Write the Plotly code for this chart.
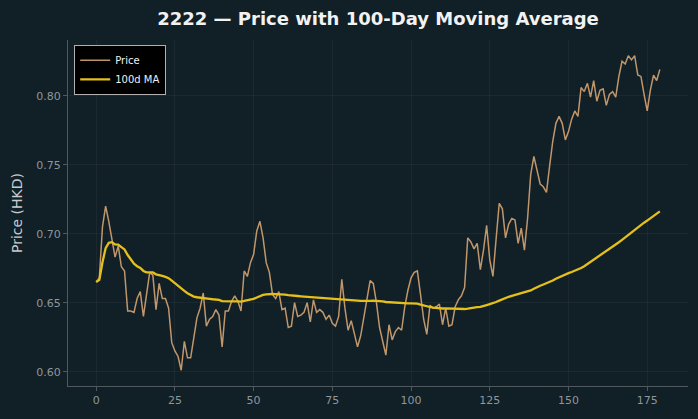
import numpy as np
import pandas as pd
import plotly.graph_objects as go

title_text = "2222 — Price with 100-Day Moving Average"
y_label = "Price (HKD)"
series_names = ["Price", "100d MA"]
ma_window = 100

price = [
    0.665, 0.668, 0.705, 0.720, 0.709, 0.696, 0.683, 0.691, 0.676, 0.673,
    0.644, 0.644, 0.643, 0.653, 0.658, 0.640, 0.656, 0.672, 0.670, 0.645,
    0.664, 0.653, 0.653, 0.646, 0.621, 0.615, 0.611, 0.601, 0.622, 0.610,
    0.610, 0.624, 0.639, 0.646, 0.657, 0.633, 0.638, 0.640, 0.645, 0.641,
    0.618, 0.644, 0.644, 0.651, 0.655, 0.651, 0.644, 0.673, 0.669, 0.679,
    0.685, 0.702, 0.709, 0.697, 0.679, 0.672, 0.656, 0.653, 0.658, 0.645,
    0.646, 0.632, 0.633, 0.650, 0.640, 0.641, 0.643, 0.650, 0.636, 0.652,
    0.643, 0.645, 0.643, 0.638, 0.641, 0.635, 0.633, 0.640, 0.667, 0.646,
    0.630, 0.637, 0.627, 0.618, 0.626, 0.639, 0.655, 0.666, 0.664, 0.650,
    0.632, 0.622, 0.612, 0.634, 0.623, 0.629, 0.632, 0.630, 0.647, 0.659,
    0.668, 0.672, 0.673, 0.656, 0.638, 0.627, 0.648, 0.646, 0.647, 0.649,
    0.634, 0.646, 0.633, 0.634, 0.647, 0.652, 0.655, 0.661, 0.697, 0.694,
    0.689, 0.693, 0.674, 0.688, 0.706, 0.681, 0.669, 0.696, 0.722, 0.718,
    0.697, 0.707, 0.711, 0.710, 0.693, 0.704, 0.688, 0.711, 0.743, 0.756,
    0.746, 0.736, 0.734, 0.730, 0.749, 0.767, 0.780, 0.785, 0.780, 0.768,
    0.774, 0.783, 0.789, 0.785, 0.806, 0.803, 0.809, 0.799, 0.811, 0.796,
    0.804, 0.805, 0.793, 0.801, 0.803, 0.799, 0.814, 0.825, 0.823, 0.829,
    0.826, 0.829, 0.815, 0.814, 0.801, 0.789, 0.804, 0.815, 0.811, 0.819,
]
days = list(range(len(price)))
ma = pd.Series(price).rolling(ma_window, min_periods=1).mean().tolist()

x_ticks = [0, 25, 50, 75, 100, 125, 150, 175]
y_ticks = [0.60, 0.65, 0.70, 0.75, 0.80]

BG = "#111f26"
TICK_C = "#8d979c"
LINE_C = "#4f595e"
GRID_C = "rgba(255,255,255,0.045)"
FONT = "DejaVu Sans"

fig = go.Figure()
fig.add_trace(go.Scatter(x=days, y=price, mode="lines", name=series_names[0],
                         line=dict(color="rgba(212,163,115,0.9)", width=1.5)))
fig.add_trace(go.Scatter(x=days, y=ma, mode="lines", name=series_names[1],
                         line=dict(color="#e6c01a", width=2.3)))

n = len(days) - 1
pad_x = n * 0.05
ymin, ymax = min(price), max(price)
pad_y = (ymax - ymin) * 0.05

fig.update_layout(
    width=698, height=419,
    paper_bgcolor=BG, plot_bgcolor=BG,
    margin=dict(l=68, r=10, t=40, b=33),
    font=dict(family=FONT, color=TICK_C, size=11),
    title=dict(text="<b>" + title_text + "</b>", x=0.5, xref="paper", xanchor="center",
               y=0.955, yref="container", yanchor="middle",
               font=dict(family=FONT, size=18, color="#f2f2f2")),
    showlegend=True,
    legend=dict(x=0.01, y=0.986, xanchor="left", yanchor="top",
                bgcolor="#000000", bordercolor="#b0b0b0", borderwidth=1,
                font=dict(family=FONT, size=10, color="#f0f0f0"),
                itemwidth=30, tracegroupgap=0),
    xaxis=dict(range=[-pad_x, n + pad_x], tickmode="array", tickvals=x_ticks,
               ticks="outside", ticklen=4, tickcolor=LINE_C, showline=True,
               linecolor=LINE_C, linewidth=1, showgrid=True, gridcolor=GRID_C,
               zeroline=False, tickfont=dict(color=TICK_C, size=11)),
    yaxis=dict(range=[ymin - pad_y, ymax + pad_y], tickmode="array", tickvals=y_ticks,
               tickformat=".2f", ticks="outside", ticklen=4, tickcolor=LINE_C,
               showline=True, linecolor=LINE_C, linewidth=1, showgrid=True,
               gridcolor=GRID_C, zeroline=False, tickfont=dict(color=TICK_C, size=11),
               title=dict(text=y_label, standoff=10,
                          font=dict(family=FONT, size=14, color="#c5cbce"))),
)

fig.write_html("out.html")
